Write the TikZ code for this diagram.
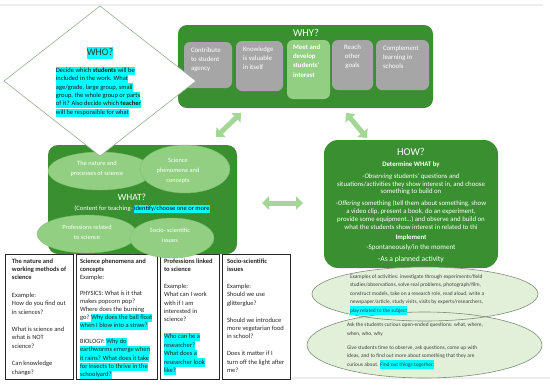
\documentclass[tikz,border=0pt]{standalone}
\usepackage{fontspec}
\setmainfont{Carlito}
\usetikzlibrary{shapes.geometric,arrows.meta}
\definecolor{dgreen}{HTML}{3A8F31}
\definecolor{lgreen}{HTML}{92CF82}
\definecolor{agreen}{HTML}{A3D796}
\definecolor{pgreen}{HTML}{E2F0D9}
\definecolor{boxgray}{HTML}{A6A6A6}
\definecolor{hlcyan}{HTML}{00FFFF}
\definecolor{egray}{HTML}{7E8C78}
\definecolor{dborder}{HTML}{93B28D}
\newcommand{\hlc}[1]{{\setlength{\fboxsep}{0pt}\colorbox{hlcyan}{\rule[-0.3\baselineskip]{0pt}{0.99\baselineskip}#1}}}
\begin{document}
\begin{tikzpicture}[x=1pt,y=-1pt,
  every node/.style={inner sep=0pt,outer sep=0pt},
  greenbox/.style={fill=dgreen},
  graybox/.style={fill=boxgray,rounded corners=6pt},
  whytext/.style={anchor=north west,text=white,align=left,font=\fontsize{6.8}{9}\selectfont},
  whatell/.style={ellipse,fill=lgreen,draw=lgreen!75!dgreen,line width=0.4pt},
  elltext/.style={text=white,align=center,font=\fontsize{6.4}{10}\selectfont},
  tabbox/.style={draw=black!85,line width=0.7pt},
  tabtext/.style={anchor=north west,align=left,text=black!85,font=\fontsize{6.5}{8.4}\selectfont},
  howtext/.style={text=white,align=center,font=\fontsize{6.8}{8}\selectfont},
  paleell/.style={ellipse,fill=pgreen},
  paletext/.style={anchor=north west,align=left,text=black!75,font=\fontsize{5.4}{8.5}\selectfont},
  barrow/.style={draw=agreen,line width=5pt,{Triangle[width=13pt,length=7pt]}-{Triangle[width=13pt,length=7pt]}},
]
\useasboundingbox (0,0) rectangle (550,384);
% faint page edges
\draw[black!7,line width=1.5pt] (0,5) -- (543,5);
\draw[black!7,line width=1.5pt] (292,378) -- (550,378);

% ---------- WHY ----------
\node[greenbox,rounded corners=9pt,minimum width=255pt,minimum height=83pt] (why) at (305.5,66.5) {};
\node[text=white,font=\fontsize{10.5}{12}\selectfont] (whyt) at (306,33) {WHY?};
\node[graybox,minimum width=48pt,minimum height=46pt] (w1) at (208,65) {};
\node[graybox,minimum width=47pt,minimum height=50pt] (w2) at (259.5,66) {};
\node[graybox,fill=lgreen,minimum width=43pt,minimum height=59pt] (w3) at (308.5,69.5) {};
\node[graybox,minimum width=41pt,minimum height=50pt] (w4) at (352.5,65) {};
\node[graybox,minimum width=53pt,minimum height=50pt] (w5) at (402.5,65) {};
\node[whytext] (w1t) at (191,47.5) {Contribute\\to student\\agency};
\node[whytext] (w2t) at (243,46.5) {Knowledge\\is valuable\\in itself};
\node[whytext,font=\bfseries\fontsize{6.8}{9.3}\selectfont] (w3t) at (293,44.5) {Meet and\\develop\\students'\\interest};
\node[whytext,align=center,anchor=north] (w4t) at (352.5,44.5) {Reach\\other\\goals};
\node[whytext] (w5t) at (383,45.5) {Complement\\learning in\\schools};

% ---------- table ----------
\node[tabbox,minimum width=68pt,minimum height=125pt] (tb1) at (39,316.5) {};
\node[tabbox,minimum width=81pt,minimum height=125pt] (tb2) at (116.5,316.5) {};
\node[tabbox,minimum width=59pt,minimum height=125pt] (tb3) at (189.5,316.5) {};
\node[tabbox,minimum width=68pt,minimum height=125pt] (tb4) at (256,316.5) {};
\node[tabtext] (tb1t) at (12,258.5) {\textbf{The nature and}\\\textbf{working methods of}\\\textbf{science}\\[9pt]Example:\\How do you find out\\in sciences?\\[9pt]What is science and\\what is NOT\\science?\\[9pt]Can knowledge\\change?};
\node[tabtext,font=\fontsize{6.5}{8.1}\selectfont] (tb2t) at (80,258.5) {\textbf{Science phenomena and}\\\textbf{concepts}\\Example:\\[8pt]PHYSICS: What is it that\\makes popcorn pop?\\Where does the burning\\go? \hlc{Why does the ball float}\\\hlc{when I blow into a straw?}\\[8pt]BIOLOGY: \hlc{Why do}\\\hlc{earthworms emerge when}\\\hlc{it rains? What does it take}\\\hlc{for insects to thrive in the}\\\hlc{schoolyard?}};
\node[tabtext] (tb3t) at (164,258.5) {\textbf{Professions linked}\\\textbf{to science}\\[8.5pt]Example:\\What can I work\\with if I am\\interested in\\science?\\[8.5pt]\hlc{Who can be a}\\\hlc{researcher?}\\\hlc{What does a}\\\hlc{researcher look}\\\hlc{like?}};
\node[tabtext] (tb4t) at (227,258.5) {\textbf{Socio-scientific}\\\textbf{issues}\\[8.5pt]Example:\\Should we use\\glitterglue?\\[8.5pt]Should we introduce\\more vegetarian food\\in school?\\[8.5pt]Does it matter if I\\turn off the light after\\me?};

% ---------- WHAT ----------
\node[greenbox,rounded corners=10pt,minimum width=189pt,minimum height=109pt] (what) at (142.5,199.5) {};
\node[whatell,minimum width=104pt,minimum height=38pt] (enat) at (100,171) {};
\node[whatell,minimum width=90pt,minimum height=48pt] (ephen) at (185,169) {};
\node[elltext] (enatt) at (97,169) {The nature and\\processes of science};
\node[elltext] (ephent) at (178,170.5) {Science\\phenomena and\\concepts};
\node[text=white,font=\fontsize{9.5}{11}\selectfont] (whatt) at (132,197) {WHAT?};
\node[text=white,font=\fontsize{6.5}{8}\selectfont] (whatc) at (142,209) {(Content for teaching- \hlc{\textcolor{black}{identify/choose one or more}}};
\node[whatell,minimum width=100pt,minimum height=38pt] (eprof) at (87,234) {};
\node[whatell,minimum width=84pt,minimum height=40pt] (esoc) at (172,238) {};
\node[elltext] (eproft) at (87,232.5) {Professions related\\to science};
\node[elltext] (esoct) at (170,235) {Socio- scientific\\issues};

% ---------- WHO ----------
\node[diamond,draw=dborder,fill=white,line width=0.6pt,minimum width=192pt,minimum height=150pt] (who) at (100,81) {};
\node[text=black!80,font=\fontsize{10}{12}\selectfont] (whot) at (100,53) {\hlc{WHO?}};
\node[anchor=north west,align=left,text=black!90,font=\fontsize{6.5}{8.4}\selectfont] (whob) at (56,66.5) {\hlc{Decide which \textbf{students} will be}\\\hlc{included in the work.  What}\\\hlc{age/grade, large group, small}\\\hlc{group, the whole group or parts}\\\hlc{of it?  Also decide which \textbf{teacher}}\\\hlc{will be responsible for what}};

% ---------- HOW ----------
\node[greenbox,rounded corners=14pt,minimum width=174pt,minimum height=128pt] (how) at (411,204) {};
\node[text=white,font=\fontsize{10.5}{12}\selectfont] (howt) at (411,152) {HOW?};
\node[howtext,font=\bfseries\fontsize{6.8}{8}\selectfont] (howd) at (411,165) {Determine WHAT by};
\node[howtext,font=\fontsize{6.8}{7.6}\selectfont] (how1) at (411,184.5) {-\textit{Observing} students' questions and\\situations/activities they show interest in, and choose\\something to build on};
\node[howtext] (how2) at (411,215.5) {-\textit{Offering} something (tell them about something, show\\a video clip, present a book, do an experiment,\\provide some equipment…) and observe and build on\\what the students show interest in related to thi};
\node[howtext,font=\bfseries\fontsize{6.8}{8}\selectfont] (howi) at (411,238) {Implement};
\node[howtext,font=\fontsize{7}{8}\selectfont] (hows) at (411,248) {-Spontaneously/in the moment};
\node[howtext,font=\fontsize{7.6}{9}\selectfont] (howp) at (411,259) {-As a planned activity};

% ---------- bottom right ellipses ----------
\node[paleell,minimum width=235pt,minimum height=66pt] (e2) at (424.5,345) {};
\node[paleell,minimum width=226pt,minimum height=54pt] (e1) at (425,294) {};
\draw[egray,line width=0.6pt] (e2.center) ellipse [x radius=117.5pt,y radius=33pt];
\draw[egray,line width=0.6pt] (e1.center) ellipse [x radius=113pt,y radius=27pt];
\node[paletext] (e1t) at (350,274.5) {Examples of activities: investigate through experiments/field\\studies/observations, solve real problems, photograph/film,\\construct models, take on a research role, read aloud, write a\\newspaper/article, study visits, visits by experts/researchers,\\\hlc{play related to the subject}};
\node[paletext] (e2t) at (347,323) {Ask the students curious open-ended questions: what, where,\\when, who, why\\[5.5pt]Give students time to observe, ask questions, come up with\\ideas, and to find out more about something that they are\\curious about. \hlc{Find out things together.}};

% ---------- arrows ----------
\coordinate (a1s) at (241,113);
\coordinate (a1e) at (216,137);
\coordinate (a2s) at (346,113);
\coordinate (a2e) at (367,138);
\coordinate (a3s) at (262,203);
\coordinate (a3e) at (303,203);
\draw[barrow] (a1s) -- (a1e);
\draw[barrow] (a2s) -- (a2e);
\draw[barrow] (a3s) -- (a3e);
\end{tikzpicture}
\end{document}
